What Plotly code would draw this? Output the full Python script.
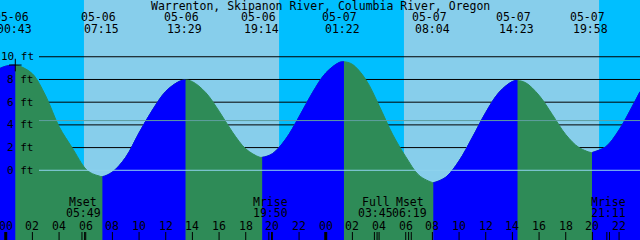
import plotly.graph_objects as go
from datetime import datetime

TITLE = "Warrenton, Skipanon River, Columbia River, Oregon"

# ---------------- data ----------------
tide_times = ["05-06 00:43", "05-06 07:15", "05-06 13:29", "05-06 19:14",
              "05-07 01:22", "05-07 08:04", "05-07 14:23", "05-07 19:58"]
tide_ft = [9.27, -0.56, 7.95, 1.14, 9.56, -1.09, 7.90, 1.55]

# tide level (hours after 05-06 00:00, feet)
curve_hours = [-0.43, 0, 1, 2, 3, 4, 5, 6, 6.5, 7, 8, 9, 10, 11, 12, 13, 14, 15, 16,
               17, 18, 19, 20, 21, 22, 23, 24, 25, 26, 27, 28, 29, 30, 31, 32,
               33, 34, 35, 36, 37, 38, 39, 40, 41, 42, 43, 44, 45, 46, 47, 47.57]
curve_ft = [8.98, 9.17, 9.20, 8.50, 6.55, 3.85, 1.95, 0.12, -0.30, -0.50, -0.15, 1.15,
            3.30, 5.30, 6.95, 7.82, 7.81, 6.85, 5.21, 3.37, 1.89, 1.17, 1.46,
            2.75, 4.71, 6.83, 8.57, 9.49, 9.33, 8.00, 5.70, 3.20, 1.20, -0.45,
            -1.08, -0.61, 0.83, 2.90, 5.09, 6.87, 7.82, 7.71, 6.60, 4.90, 3.15,
            2.00, 1.57, 2.07, 3.55, 5.65, 6.92]

day_starts = ["05-06 05:52", "05-07 05:52"]   # sunrise
day_ends = ["05-06 20:30", "05-07 20:30"]     # sunset

moon_names = ["Mset", "Mrise", "Full", "Mset", "Mrise"]
moon_times = ["05-06 05:49", "05-06 19:50", "05-07 03:45", "05-07 06:19", "05-07 21:11"]

level_ticks = [10, 8, 6, 4, 2, 0]
level_labels = ["10 ft", "8 ft", "6 ft", "4 ft", "2 ft", "0 ft"]
MSL_FT = 4.38

hour_ticks = [0, 2, 4, 6, 8, 10, 12, 14, 16, 18, 20, 22,
              24, 26, 28, 30, 32, 34, 36, 38, 40, 42, 44, 46]
hour_labels = ["00", "02", "04", "06", "08", "10", "12", "14", "16", "18", "20", "22",
               "00", "02", "04", "06", "08", "10", "12", "14", "16", "18", "20", "22"]
midnights = ["05-06 00:00", "05-07 00:00"]

# ---------------- styling ----------------
W, H = 640, 240
X0, X1 = -0.43, 47.57
Y_RANGE = [-6.14, 15.0]
RISE = "#0000FF"
FALL = "#2E8B57"
DAY = "#87CEEB"
NIGHT = "#00BFFF"
MSL_COLOR = "#5F9EA0"
DATUM_COLOR = "#8FD3EE"
FONT = dict(family="DejaVu Sans Mono", size=11.5, color="black")
FONT_S = dict(family="DejaVu Sans Mono", size=11, color="black")


def hrs(s):
    d = datetime.strptime("2000-" + s, "%Y-%m-%d %H:%M")
    return (d - datetime(2000, 5, 6)).total_seconds() / 3600.0


def py(px):
    """pixel row from top -> paper y"""
    return 1 - px / H


fig = go.Figure()
ext_h = [hrs(t) for t in tide_times]
pts = sorted(list(zip(curve_hours, curve_ft)) + list(zip(ext_h, tide_ft)))
cx = [p[0] for p in pts]
cy = [p[1] for p in pts]
base_y = [Y_RANGE[0] - 2] * len(cx)


def add_fill(color, xaxis):
    fig.add_trace(go.Scatter(x=cx, y=base_y, mode="lines", line=dict(width=0),
                             xaxis=xaxis, yaxis="y", hoverinfo="skip", showlegend=False))
    fig.add_trace(go.Scatter(x=cx, y=cy, mode="lines",
                             line=dict(color=color, width=1, shape="spline", smoothing=1),
                             fill="tonexty", fillcolor=color, xaxis=xaxis, yaxis="y",
                             hoverinfo="skip", showlegend=False))


# whole water body in the falling colour
add_fill(FALL, "x")

# rising stretches: the same curve, clipped to each low->high window
bounds = [X0] + ext_h + [X1]
extra_axes = {}
k = 2
for a, b, va, vb in zip(bounds[:-1], bounds[1:],
                        [curve_ft[0]] + tide_ft, tide_ft + [curve_ft[-1]]):
    if vb > va:
        name = "x%d" % k
        extra_axes["xaxis%d" % k] = dict(
            domain=[(a - X0) / (X1 - X0), (b - X0) / (X1 - X0)], range=[a, b],
            visible=False, anchor="y", fixedrange=True)
        add_fill(RISE, name)
        k += 1

# cross at first high
fig.add_trace(go.Scatter(x=[ext_h[0]], y=[tide_ft[0]], mode="markers", xaxis="x2", yaxis="y",
                         cliponaxis=False,
                         marker=dict(symbol="cross-thin", size=9,
                                     line=dict(color="black", width=1)),
                         hoverinfo="skip", showlegend=False))

shapes = []
for s, e in zip(day_starts, day_ends):
    shapes.append(dict(type="rect", xref="x", yref="paper", x0=hrs(s), x1=hrs(e),
                       y0=0, y1=1, fillcolor=DAY, line=dict(width=0), layer="below"))
for lv in level_ticks:
    if lv == 0:
        continue
    shapes.append(dict(type="line", xref="paper", yref="y", x0=39 / W, x1=1,
                       y0=lv, y1=lv, line=dict(color="black", width=1), layer="below"))
shapes.append(dict(type="line", xref="paper", yref="y", x0=39 / W, x1=1,
                   y0=MSL_FT, y1=MSL_FT, line=dict(color=MSL_COLOR, width=1), layer="above"))
shapes.append(dict(type="line", xref="paper", yref="y", x0=39 / W, x1=1,
                   y0=0, y1=0, line=dict(color=DATUM_COLOR, width=1), layer="above"))
for h in hour_ticks:
    shapes.append(dict(type="line", xref="x", yref="paper", x0=h, x1=h,
                       y0=0, y1=8 / H, line=dict(color="black", width=1), layer="above"))
for m in midnights:
    shapes.append(dict(type="line", xref="x", yref="paper", x0=hrs(m), x1=hrs(m),
                       y0=0, y1=8 / H, line=dict(color="black", width=3), layer="above"))
for t in moon_times:
    for d in (-0.1, 0.1):
        shapes.append(dict(type="line", xref="x", yref="paper", x0=hrs(t) + d, x1=hrs(t) + d,
                           y0=0, y1=8 / H, line=dict(color="black", width=1), layer="above"))

ann = []
ann.append(dict(text=TITLE, x=0.5, xref="paper", y=py(6), yref="paper",
                xanchor="center", yanchor="middle", showarrow=False, font=FONT))
for t in tide_times:
    date, clock = t.split(" ")
    ann.append(dict(text=date, x=hrs(t), xref="x", y=py(17.5), yref="paper", xshift=-4,
                    xanchor="center", yanchor="middle", showarrow=False, font=FONT))
    ann.append(dict(text=clock, x=hrs(t), xref="x", y=py(29), yref="paper", xshift=-1,
                    xanchor="center", yanchor="middle", showarrow=False, font=FONT))
for lv, lab in zip(level_ticks, level_labels):
    ann.append(dict(text=lab, x=36 / W, xref="paper", y=lv, yref="y",
                    xanchor="right", yanchor="middle", showarrow=False, font=FONT_S))
for n, t in zip(moon_names, moon_times):
    ann.append(dict(text=n, x=hrs(t), xref="x", y=py(201.5), yref="paper",
                    xanchor="center", yanchor="middle", showarrow=False, font=FONT))
    ann.append(dict(text=t.split(" ")[1], x=hrs(t), xref="x", y=py(213), yref="paper",
                    xanchor="center", yanchor="middle", showarrow=False, font=FONT))
for h, lab in zip(hour_ticks, hour_labels):
    ann.append(dict(text=lab, x=h, xref="x", y=py(226), yref="paper",
                    xanchor="center", yanchor="middle", showarrow=False, font=FONT))

fig.update_layout(
    width=W, height=H, margin=dict(l=0, r=0, t=0, b=0),
    plot_bgcolor="rgba(0,0,0,0)", paper_bgcolor=NIGHT,
    shapes=shapes, annotations=ann, showlegend=False,
    xaxis=dict(range=[X0, X1], domain=[0, 1], visible=False, fixedrange=True),
    yaxis=dict(range=Y_RANGE, visible=False, fixedrange=True),
    **extra_axes,
)

fig.write_html("out.html", config={"displayModeBar": False})
